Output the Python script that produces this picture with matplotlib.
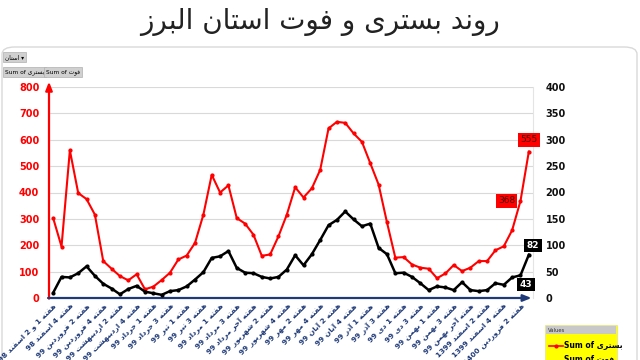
import matplotlib
matplotlib.use('Agg')
import matplotlib.pyplot as plt
from matplotlib.patches import FancyBboxPatch, Rectangle
from matplotlib.lines import Line2D

# ---------------- data ----------------
week_labels = [
    "هفته 1 و 2 اسفند 98", "هفته 4 اسفند 98", "هفته 2 فروردین 99", "هفته 4 فروردین 99",
    "هفته 2 اردیبهشت 99", "هفته 4 اردیبهشت 99", "هفته 1 خرداد 99", "هفته 3 خرداد 99",
    "هفته 1 تیر 99", "هفته 3 تیر 99", "هفته 1 مرداد 99", "هفته 3 مرداد 99",
    "هفته آخر مرداد 99", "هفته 2 شهریور 99", "هفته 4 شهریور 99", "هفته 2 مهر 99",
    "هفته 4 مهر 99", "هفته 2 آبان 99", "هفته 4 آبان 99", "هفته 1 آذر 99",
    "هفته 3 آذر 99", "هفته 1 دی 99", "هفته 3 دی 99", "هفته 1 بهمن 99",
    "هفته 3 بهمن 99", "هفته آخر بهمن 99", "هفته 2 اسفند 1399", "هفته 4 اسفند 1399",
    "هفته 2 فروردین 1400",
]
hospitalized = [303, 195, 560, 398, 375, 316, 140, 111, 83, 67, 90, 33, 43, 68, 96, 146,
                161, 209, 316, 467, 400, 427, 303, 282, 240, 160, 165, 234, 316, 420, 381,
                416, 486, 643, 668, 664, 624, 592, 511, 430, 287, 153, 155, 127, 115, 111,
                75, 93, 125, 102, 115, 140, 140, 181, 196, 257, 368, 555]
deaths = [10, 40, 39, 47, 60, 42, 27, 18, 7, 17, 23, 12, 9, 6, 13, 15, 22, 35, 49, 76, 79,
          89, 57, 48, 47, 40, 37, 40, 54, 81, 62, 83, 110, 138, 148, 164, 149, 136, 141, 95,
          83, 47, 48, 40, 28, 15, 22, 20, 15, 30, 15, 13, 15, 28, 25, 39, 43, 82]
title_text = "روند بستری و فوت استان البرز"
hosp_name = "بستری"
death_name = "فوت"
province_name = "استان"
hosp_labeled = [56, 57]
death_labeled = [56, 57]

# ------------- minimal Persian shaping (presentation forms + RTL) -------------
FORMS = {
    '\u0627': ('\uFE8D', '\uFE8E', None, None),
    '\u0622': ('\uFE81', '\uFE82', None, None),
    '\u0628': ('\uFE8F', '\uFE90', '\uFE91', '\uFE92'),
    '\u062A': ('\uFE95', '\uFE96', '\uFE97', '\uFE98'),
    '\u062E': ('\uFEA5', '\uFEA6', '\uFEA7', '\uFEA8'),
    '\u062F': ('\uFEA9', '\uFEAA', None, None),
    '\u0630': ('\uFEAB', '\uFEAC', None, None),
    '\u0631': ('\uFEAD', '\uFEAE', None, None),
    '\u0632': ('\uFEAF', '\uFEB0', None, None),
    '\u0633': ('\uFEB1', '\uFEB2', '\uFEB3', '\uFEB4'),
    '\u0634': ('\uFEB5', '\uFEB6', '\uFEB7', '\uFEB8'),
    '\u0641': ('\uFED1', '\uFED2', '\uFED3', '\uFED4'),
    '\u0644': ('\uFEDD', '\uFEDE', '\uFEDF', '\uFEE0'),
    '\u0645': ('\uFEE1', '\uFEE2', '\uFEE3', '\uFEE4'),
    '\u0646': ('\uFEE5', '\uFEE6', '\uFEE7', '\uFEE8'),
    '\u0647': ('\uFEE9', '\uFEEA', '\uFEEB', '\uFEEC'),
    '\u0648': ('\uFEED', '\uFEEE', None, None),
    '\u06CC': ('\uFBFC', '\uFBFD', '\uFBFE', '\uFBFF'),
    '\u06A9': ('\uFB8E', '\uFB8F', '\uFB90', '\uFB91'),
}


def _shape_word(w):
    w = w.replace('\u064A', '\u06CC').replace('\u0643', '\u06A9')
    out = []
    for i, c in enumerate(w):
        if c not in FORMS:
            out.append(c)
            continue
        prev = w[i - 1] if i > 0 else None
        nxt = w[i + 1] if i + 1 < len(w) else None
        pj = prev in FORMS and FORMS[prev][2] is not None
        dual = FORMS[c][2] is not None
        nj = dual and nxt in FORMS
        iso, fin, ini, med = FORMS[c]
        if pj and nj:
            out.append(med)
        elif pj:
            out.append(fin)
        elif nj:
            out.append(ini)
        else:
            out.append(iso)
    return ''.join(out)


def is_arabic(tok):
    return any('\u0600' <= ch <= '\u06FF' for ch in tok)


def fa(text):
    toks = text.split(' ')
    vis = []
    for t in reversed(toks):
        if is_arabic(t):
            vis.append(_shape_word(t)[::-1])
        else:
            vis.append(t)
    return ' '.join(vis)


plt.rcParams['font.family'] = ['DejaVu Sans']

fig = plt.figure(figsize=(6.4, 3.6), dpi=100)
W, H = 640.0, 360.0

# outer frame
frame = FancyBboxPatch((2 / W, -0.05), 635 / W, (360 - 47) / H + 0.05,
                       boxstyle="round,pad=0,rounding_size=0.02",
                       transform=fig.transFigure, fc='none', ec='#D9D9D9', lw=1, zorder=-5)
fig.patches.append(frame)

fig.text(0.5, 1 - 22 / H, fa(title_text), ha='center', va='center', fontsize=20,
         color='#222222')

# pivot buttons
btn = dict(boxstyle='square,pad=0.3', fc='#D0D0D0', ec='#B0B0B0', lw=0.5)
fig.text(5 / W, 1 - 57 / H, fa(province_name) + ' \u25BE', fontsize=4.2, ha='left', va='center',
         bbox=btn)
fig.text(5 / W, 1 - 72 / H, 'Sum of ' + fa(hosp_name), fontsize=4.2, ha='left', va='center',
         bbox=btn)
fig.text(46 / W, 1 - 72 / H, 'Sum of ' + fa(death_name), fontsize=4.2, ha='left', va='center',
         bbox=btn)

ax = fig.add_axes([49 / W, 1 - 298 / H, (533 - 49) / W, (298 - 87) / H])
ax2 = ax.twinx()

x = list(range(len(hospitalized)))

ax.set_ylim(0, 800)
ax.set_yticks(range(0, 801, 100))
ax.set_xlim(-0.5, len(x) - 0.5)
ax.grid(axis='y', color='#D9D9D9', lw=0.8)
ax.set_axisbelow(True)
ax.tick_params(axis='y', length=0, pad=7, labelsize=7, labelcolor='#FF0000')
for t in ax.get_yticklabels():
    t.set_fontweight('bold')

ax.set_xticks(x[::2])
ax.set_xticklabels([fa(s) for s in week_labels], rotation=45, ha='right', va='top',
                   rotation_mode='anchor', fontsize=5.3, color='#1F3A78', fontweight='bold')
ax.tick_params(axis='x', length=0, pad=3)

for sp in ax.spines.values():
    sp.set_visible(False)
for sp in ax2.spines.values():
    sp.set_visible(False)
ax2.spines['right'].set_visible(True)
ax2.spines['right'].set_color('#E4E4E4')
ax2.spines['right'].set_linewidth(0.8)
ax2.spines['right'].set_zorder(0.5)

ax2.set_ylim(0, 400)
ax2.set_yticks(range(0, 401, 50))
ax2.tick_params(axis='y', length=0, pad=9, labelsize=7, labelcolor='#111111')
for t in ax2.get_yticklabels():
    t.set_fontweight('bold')

# axis arrows
ax.annotate('', xy=(0, 1.025), xytext=(0, -0.003), xycoords='axes fraction',
            arrowprops=dict(arrowstyle='-|>,head_length=0.5,head_width=0.2', color='#FF0000',
                            lw=1.6, shrinkA=0, shrinkB=0))
ax.annotate('', xy=(0.997, 0), xytext=(-0.002, 0), xycoords='axes fraction',
            arrowprops=dict(arrowstyle='-|>,head_length=0.5,head_width=0.2', color='#1F3A78',
                            lw=1.6, shrinkA=0, shrinkB=0), zorder=5)

ax.plot(x, hospitalized, color='#FF0000', lw=1.5, marker='o', ms=2.0, zorder=3)
ax2.plot(x, deaths, color='#000000', lw=1.8, marker='o', ms=2.0, zorder=3)

# data labels (drawn on the top axes so nothing covers them)
hosp_off = {56: (-10, 0), 57: (0, 8.5)}
for i in hosp_labeled:
    ax2.annotate(str(hospitalized[i]), (x[i], hospitalized[i]), xycoords=ax.transData,
                 xytext=hosp_off[i], textcoords='offset points', ha='center', va='center',
                 fontsize=6.5, color='#4A0000', zorder=10, annotation_clip=False,
                 bbox=dict(boxstyle='square,pad=0.25', fc='#FF0000', ec='none'))
death_off = {56: (4, -6.5), 57: (3, 6.5)}
for i in death_labeled:
    ax2.annotate(str(deaths[i]), (x[i], deaths[i]), xytext=death_off[i],
                 textcoords='offset points', ha='center', va='center', fontsize=6.5,
                 color='white', fontweight='bold', zorder=10, annotation_clip=False,
                 bbox=dict(boxstyle='square,pad=0.25', fc='#000000', ec='none'))

# legend box (field list area)
fig.patches.append(Rectangle((545 / W, 0), 72 / W, (360 - 325) / H, transform=fig.transFigure,
                             fc='#FFFF00', ec='#E0E0A0', lw=0.5))
fig.patches.append(Rectangle((546 / W, 1 - 334 / H), 70 / W, 8 / H, transform=fig.transFigure,
                             fc='#C8C8C8', ec='none'))
fig.text(548 / W, 1 - 330 / H, 'Values', fontsize=3.8, ha='left', va='center', color='#333333')
fig.lines.append(Line2D([549 / W, 563 / W], [1 - 345.5 / H] * 2, transform=fig.transFigure,
                        color='#FF0000', lw=1.2))
fig.lines.append(Line2D([556 / W], [1 - 345.5 / H], transform=fig.transFigure,
                        color='#FF0000', marker='o', ms=2))
fig.text(564 / W, 1 - 345.5 / H, 'Sum of ' + fa(hosp_name), fontsize=5.5, ha='left',
         va='center', fontweight='bold', color='black')
fig.text(564 / W, 1 - 359 / H, 'Sum of ' + fa(death_name), fontsize=5.5, ha='left',
         va='center', fontweight='bold', color='black')

fig.savefig('out.png', dpi=100)
